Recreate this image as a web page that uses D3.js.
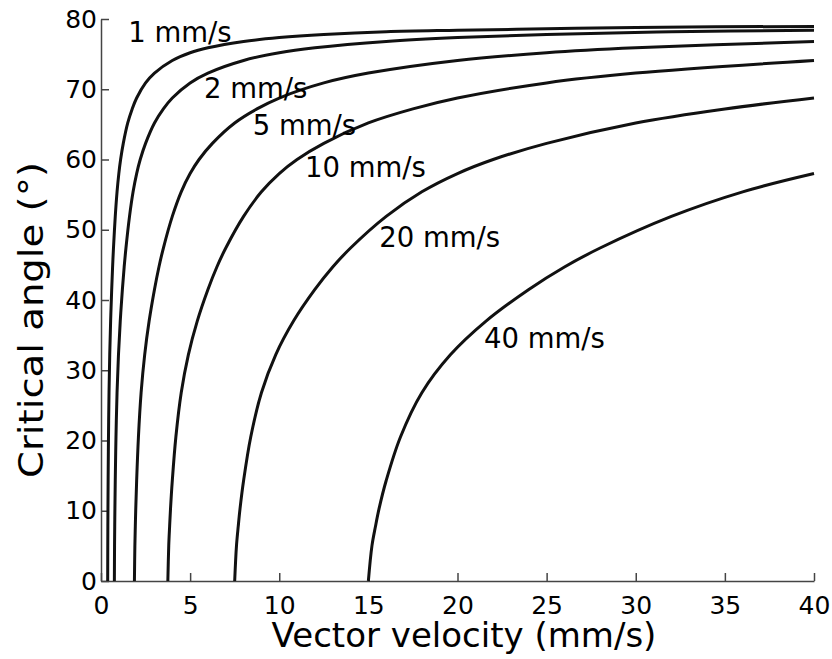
<!DOCTYPE html>
<html>
<head>
<meta charset="utf-8">
<script src="https://cdn.jsdelivr.net/npm/d3@7"></script>
<style>
  body { margin: 0; background: #fff; }
  text { font-family: "DejaVu Sans", sans-serif; fill: #000; }
  .axis path, .axis line { stroke: #444; stroke-width: 1.5; }
  .axis text { font-size: 25px; }
  .curve { fill: none; stroke: #111; stroke-width: 3; stroke-linejoin: round; }
  .label { font-size: 27.5px; }
  .title { font-size: 34px; }
</style>
</head>
<body>
<div id="chart"></div>
<script>
// speeds in mm/s, one curve each
var speeds = [1, 2, 5, 10, 20, 40];
var labels = ['1 mm/s', '2 mm/s', '5 mm/s', '10 mm/s', '20 mm/s', '40 mm/s'];

// [vector velocity (mm/s), critical angle (deg)]
var c1 = [[0.375,0],[0.38,5],[0.385,7.8],[0.39,10.3],[0.40,14.3],[0.42,20.5],[0.45,26.8],[0.49,32.2],[0.54,37],[0.60,41.5],[0.65,44.7],[0.70,47.4],[0.80,51.9],[0.90,55.4],[1,58],[1.1,60],[1.25,62.3],[1.5,65.2],[1.75,67.2],[2,68.75],[2.5,70.9],[3,72.3],[4,74.1],[5,75.2],[6,75.9],[8,76.8],[10,77.35],[12.5,77.8],[16,78.2],[20,78.4],[25,78.6],[30,78.8],[40,78.95]];
var c2 = [[0.75,0],[0.76,5],[0.77,7.8],[0.78,10.3],[0.80,14.3],[0.84,20.5],[0.90,26.8],[0.98,32.2],[1.08,37],[1.2,41.5],[1.3,44.7],[1.4,47.4],[1.6,51.9],[1.8,55.4],[2,58],[2.2,60],[2.5,62.3],[3,65.2],[3.5,67.2],[4,68.75],[5,70.9],[6,72.3],[8,74.1],[10,75.2],[12,75.9],[16,76.8],[20,77.35],[25,77.8],[32,78.2],[40,78.4]];
var c5 = [[1.875,0],[1.9,5],[1.925,7.8],[1.95,10.3],[2.0,14.3],[2.1,20.5],[2.25,26.8],[2.45,32.2],[2.7,37],[3.0,41.5],[3.25,44.7],[3.5,47.4],[4,51.9],[4.5,55.4],[5,58],[5.5,60],[6.25,62.3],[7.5,65.2],[8.75,67.2],[10,68.75],[12.5,70.9],[15,72.3],[20,74.1],[25,75.2],[30,75.9],[40,76.8]];
var c10 = [[3.75,0],[3.8,5],[3.85,7.8],[3.9,10.3],[4.0,14.3],[4.2,20.5],[4.5,26.8],[4.9,32.2],[5.4,37],[6.0,41.5],[6.5,44.7],[7,47.4],[8,51.9],[9,55.4],[10,58],[11,60],[12.5,62.3],[15,65.2],[17.5,67.2],[20,68.75],[25,70.9],[30,72.3],[40,74.1]];
var c20 = [[7.5,0],[7.6,5],[7.7,7.8],[7.8,10.3],[8.0,14.3],[8.4,20.5],[9.0,26.8],[9.8,32.2],[10.8,37],[12,41.5],[13,44.7],[14,47.4],[16,51.9],[18,55.4],[20,58],[22,60],[25,62.3],[30,65.2],[35,67.2],[40,68.75]];
var c40 = [[15,0],[15.2,5],[15.4,7.8],[15.6,10.3],[16,14.3],[16.8,20.5],[18,26.8],[19.6,32.2],[21.6,37],[24,41.5],[26,44.7],[28,47.4],[32,51.9],[36,55.4],[40,58]];
var curves = [c1, c2, c5, c10, c20, c40];

// where each label sits, in data units (left end of text, baseline)
var labelAt = [[1.53,76.7],[5.78,68.7],[8.51,63.5],[11.44,57.5],[15.61,47.6],[21.49,33.1]];

var xTicks = [0, 5, 10, 15, 20, 25, 30, 35, 40];
var yTicks = [0, 10, 20, 30, 40, 50, 60, 70, 80];

var width = 832;
var height = 659;

var svg = d3.select('#chart')
    .append('svg')
    .attr('width', width)
    .attr('height', height);

var x = d3.scaleLinear().domain([0, 40]).range([101, 814]);
var y = d3.scaleLinear().domain([0, 80]).range([581, 19]);

svg.append('g')
    .attr('class', 'x axis')
    .attr('transform', 'translate(0,' + y(0) + ')')
    .call(d3.axisBottom(x).tickValues(xTicks).tickSizeInner(-8).tickSizeOuter(0).tickPadding(15));

svg.append('g')
    .attr('class', 'y axis')
    .attr('transform', 'translate(' + x(0) + ',0)')
    .call(d3.axisLeft(y).tickValues(yTicks).tickSizeInner(-8).tickSizeOuter(0).tickPadding(4));

svg.selectAll('.axis text').attr('fill', '#000');

var line = d3.line()
    .x(function(d) { return x(d[0]); })
    .y(function(d) { return y(d[1]); })
    .curve(d3.curveCatmullRom.alpha(0.5));

svg.selectAll('path.curve')
    .data(curves)
    .enter()
    .append('path')
    .attr('class', 'curve')
    .attr('d', line);

svg.selectAll('text.label')
    .data(labels)
    .enter()
    .append('text')
    .attr('class', 'label')
    .attr('x', function(d, i) { return x(labelAt[i][0]); })
    .attr('y', function(d, i) { return y(labelAt[i][1]); })
    .text(function(d) { return d; });

svg.append('text')
    .attr('class', 'title')
    .attr('x', 464)
    .attr('y', 647)
    .attr('text-anchor', 'middle')
    .text('Vector velocity (mm/s)');

svg.append('text')
    .attr('class', 'title')
    .attr('transform', 'translate(43,320) rotate(-90)')
    .attr('text-anchor', 'middle')
    .attr('textLength', 316)
    .attr('lengthAdjust', 'spacingAndGlyphs')
    .text('Critical angle (°)');
</script>
</body>
</html>
